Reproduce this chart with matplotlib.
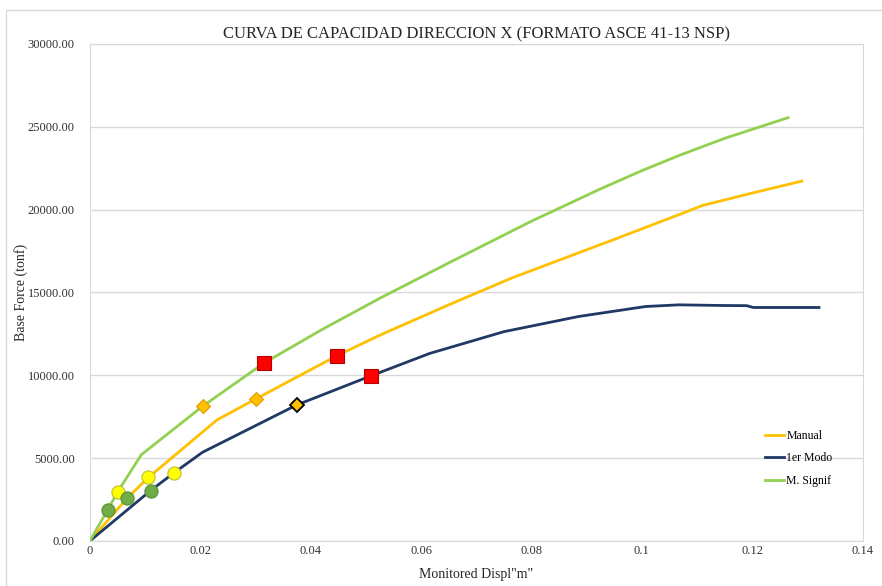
import matplotlib.pyplot as plt
from matplotlib.patches import Rectangle
from matplotlib.ticker import FormatStrFormatter

plt.rcParams['font.family'] = ['Liberation Serif', 'DejaVu Serif']

# capacity curves (displacement m, base force tonf)
manual_x = [0, 0.0068, 0.0105, 0.023, 0.0301, 0.0447, 0.0526, 0.065, 0.0765, 0.095, 0.107,
            0.111, 0.12, 0.129]
manual_y = [0, 2600, 3800, 7300, 8575, 11170, 12430, 14250, 15880, 18200, 19730,
            20250, 21000, 21720]

modo_x = [0, 0.011, 0.0152, 0.0204, 0.0375, 0.0509, 0.0615, 0.075, 0.0886, 0.1007,
          0.1067, 0.1148, 0.119, 0.1202, 0.1321]
modo_y = [0, 3040, 4100, 5350, 8210, 9960, 11310, 12630, 13550, 14150,
          14250, 14210, 14200, 14090, 14090]

signif_x = [0, 0.0032, 0.005, 0.0093, 0.0205, 0.0316, 0.042, 0.0526, 0.065, 0.08,
            0.0925, 0.1, 0.107, 0.115, 0.1265]
signif_y = [0, 1870, 2950, 5200, 8150, 10750, 12750, 14660, 16780, 19300,
            21250, 22350, 23300, 24300, 25550]

# performance points
yellow_x = [0.005, 0.0105, 0.0152]
yellow_y = [2950, 3850, 4100]
green_x = [0.0032, 0.0068, 0.011]
green_y = [1870, 2600, 3040]
diam_x = [0.0205, 0.0301]
diam_y = [8150, 8575]
diam_modo_x = [0.0375]
diam_modo_y = [8210]
red_x = [0.0316, 0.0447, 0.0509]
red_y = [10750, 11170, 9960]

fig = plt.figure(figsize=(8.82, 5.86), dpi=100)
ax = fig.add_axes([0.102, 0.077, 0.876, 0.848])

fig.patches.append(Rectangle((0.007, -0.1), 1.1, 1.083, transform=fig.transFigure,
                             fill=False, edgecolor='#d9d9d9', lw=1))

ax.plot(manual_x, manual_y, color='#FFC000', lw=2, label='Manual', zorder=3)
ax.plot(modo_x, modo_y, color='#203864', lw=2, label='1er Modo', zorder=3)
ax.plot(signif_x, signif_y, color='#92D050', lw=2, label='M. Signif', zorder=3)

ax.plot(yellow_x, yellow_y, 'o', ms=9.5, mfc='#FFFF00', mec='#BDBD3A', mew=0.8, zorder=4)
ax.plot(green_x, green_y, 'o', ms=9.5, mfc='#70AD47', mec='#5B8F38', mew=0.8, zorder=4)
ax.plot(diam_x, diam_y, 'D', ms=7.5, mfc='#FFC000', mec='#E09A00', mew=0.8, zorder=4)
ax.plot(diam_modo_x, diam_modo_y, 'D', ms=7.5, mfc='#FFC000', mec='black', mew=1.3, zorder=4)
ax.plot(red_x, red_y, 's', ms=10, mfc='#FF0000', mec='#B00000', mew=0.8, zorder=4)

ax.set_xlim(0, 0.14)
ax.set_ylim(0, 30000)
ax.set_xticks([0, 0.02, 0.04, 0.06, 0.08, 0.1, 0.12, 0.14])
ax.set_xticklabels(['0', '0.02', '0.04', '0.06', '0.08', '0.1', '0.12', '0.14'])
ax.set_yticks(range(0, 30001, 5000))
ax.yaxis.set_major_formatter(FormatStrFormatter('%.2f'))
ax.tick_params(labelsize=9, length=0, colors='#333333')
ax.tick_params(axis='y', pad=11)
ax.tick_params(axis='x', pad=3)

ax.grid(axis='y', color='#d9d9d9', lw=1)
ax.set_axisbelow(True)
for s in ax.spines.values():
    s.set_color('#d9d9d9')

ax.set_title('CURVA DE CAPACIDAD DIRECCION X (FORMATO ASCE 41-13 NSP)',
             fontsize=12, color='#262626', pad=4)
ax.set_ylabel('Base Force (tonf)', fontsize=10, color='#262626', labelpad=0)
ax.set_xlabel('Monitored Displ"m"', fontsize=10, color='#262626', labelpad=8)

ax.legend(loc='upper left', bbox_to_anchor=(0.86, 0.245), frameon=False,
          fontsize=8.5, handlelength=1.6, handletextpad=0.2, labelspacing=0.9)

fig.savefig('out.png', dpi=100)
